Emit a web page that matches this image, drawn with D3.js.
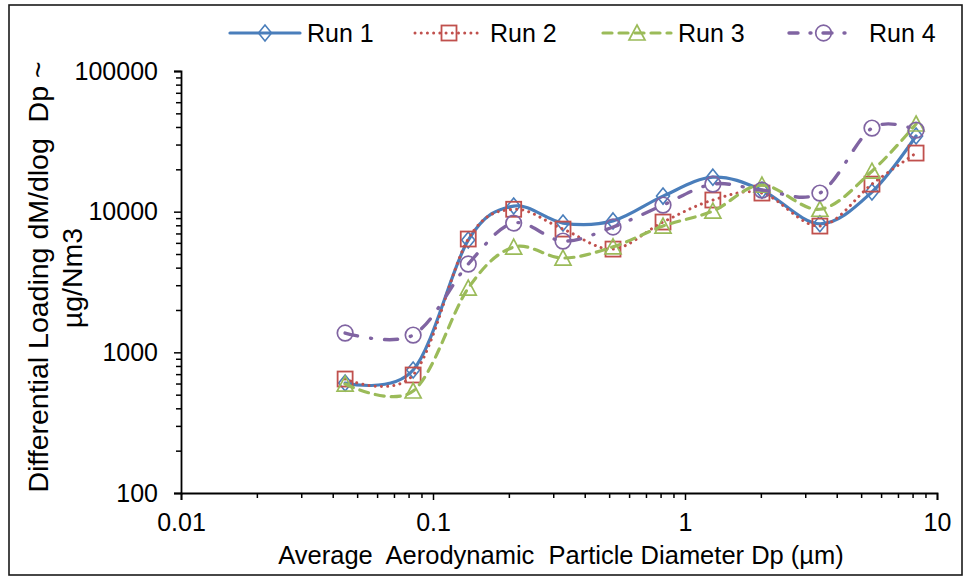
<!DOCTYPE html>
<html>
<head>
<meta charset="utf-8">
<script src="https://cdn.jsdelivr.net/npm/d3@7"></script>
<style>
  html, body { margin: 0; padding: 0; background: #fff; }
  svg { display: block; }
  text { font-family: "Liberation Sans", Arial, sans-serif; fill: #000; }
</style>
</head>
<body>
<svg id="chart" width="966" height="580"></svg>
<script>
// ---- Data ----
const diameters = [0.0448, 0.0834, 0.138, 0.209, 0.328, 0.518, 0.818, 1.29, 2.02, 3.43, 5.52, 8.26];
const run1 = [605, 748, 6280, 10960, 8300, 8600, 12900, 17600, 14200, 8200, 13800, 34500];
const run2 = [646, 690, 6390, 10400, 7520, 5420, 8440, 12100, 13560, 7900, 15700, 26100];
const run3 = [595, 531, 2860, 5600, 4680, 5620, 7900, 10100, 15450, 10400, 19400, 42000];
const run4 = [1372, 1327, 4245, 8300, 6180, 7780, 11140, 15700, 14250, 13560, 39300, 38000];
const seriesNames = ["Run 1", "Run 2", "Run 3", "Run 4"];
const xTickLabels = ["0.01", "0.1", "1", "10"];
const yTickLabels = ["100", "1000", "10000", "100000"];
const xTitle = "Average  Aerodynamic  Particle Diameter Dp (µm)";
const yTitle1 = "Differential Loading dM/dlog  Dp ~";
const yTitle2 = "µg/Nm3";

// ---- Styles ----
const styles = [
  { color: "#4a7ebb", width: 3.2, dash: null, cap: "round", marker: "diamond" },
  { color: "#c0504d", width: 3, dash: "0.01 6.2", cap: "round", marker: "square" },
  { color: "#9bbb59", width: 3.2, dash: "9 7", cap: "round", marker: "triangle" },
  { color: "#8064a2", width: 3.4, dash: "13 13 1 13", cap: "round", marker: "circle" }
];
const allRuns = [run1, run2, run3, run4];
const FONT = "Liberation Sans, Arial, sans-serif";

const svg = d3.select("#chart");

// Outer border
svg.append("rect").attr("x", 9).attr("y", 5).attr("width", 953).attr("height", 570)
  .attr("fill", "none").attr("stroke", "#1a1a1a").attr("stroke-width", 1.6);

const x = d3.scaleLog().domain([0.01, 10]).range([181, 937]);
const y = d3.scaleLog().domain([100, 100000]).range([493, 71]);

// Minor + major ticks
const xMinor = [];
for (let e = -2; e < 1; e++) for (let m = 2; m <= 9; m++) xMinor.push(m * Math.pow(10, e));
const yMinor = [];
for (let e = 2; e < 5; e++) for (let m = 2; m <= 9; m++) yMinor.push(m * Math.pow(10, e));

const axisG = svg.append("g");
axisG.append("g").attr("transform", "translate(0,493)")
  .call(d3.axisBottom(x).tickValues(xMinor).tickSize(5).tickFormat(""))
  .call(g => g.select(".domain").remove())
  .call(g => g.selectAll("line").attr("stroke", "#000").attr("stroke-width", 1.5));
axisG.append("g").attr("transform", "translate(0,493)")
  .call(d3.axisBottom(x).tickValues(xTickLabels.map(Number)).tickSize(7).tickPadding(13)
    .tickFormat((d, i) => xTickLabels[i]))
  .call(g => g.select(".domain").attr("stroke", "#000").attr("stroke-width", 1.8))
  .call(g => g.selectAll("line").attr("stroke", "#000").attr("stroke-width", 1.5))
  .call(g => g.selectAll("text").attr("font-size", 25).attr("font-family", FONT).attr("fill", "#000"));

axisG.append("g").attr("transform", "translate(181,0)")
  .call(d3.axisLeft(y).tickValues(yMinor).tickSize(5).tickFormat(""))
  .call(g => g.select(".domain").remove())
  .call(g => g.selectAll("line").attr("stroke", "#000").attr("stroke-width", 1.5));
axisG.append("g").attr("transform", "translate(181,0)")
  .call(d3.axisLeft(y).tickValues(yTickLabels.map(Number)).tickSize(7).tickPadding(16)
    .tickFormat((d, i) => yTickLabels[i]))
  .call(g => g.select(".domain").attr("stroke", "#000").attr("stroke-width", 1.8))
  .call(g => g.selectAll("line").attr("stroke", "#000").attr("stroke-width", 1.5))
  .call(g => g.selectAll("text").attr("font-size", 25).attr("font-family", FONT).attr("fill", "#000"));

// Axis titles
svg.append("text").attr("x", 561).attr("y", 564).attr("text-anchor", "middle")
  .attr("font-size", 25.5).style("white-space", "pre").text(xTitle);
svg.append("text").attr("transform", "translate(48,277) rotate(-90)").attr("text-anchor", "middle")
  .attr("font-size", 28.5).style("white-space", "pre").text(yTitle1);
svg.append("text").attr("transform", "translate(82,278) rotate(-90)").attr("text-anchor", "middle")
  .attr("font-size", 28.5).text(yTitle2);

// Marker drawing
function drawMarker(g, type, cx, cy, color) {
  if (type === "diamond") {
    g.append("path").attr("d", `M${cx},${cy - 8}L${cx + 6.5},${cy}L${cx},${cy + 8}L${cx - 6.5},${cy}Z`)
      .attr("fill", "none").attr("stroke", color).attr("stroke-width", 1.6);
  } else if (type === "square") {
    g.append("rect").attr("x", cx - 7.5).attr("y", cy - 7.5).attr("width", 15).attr("height", 15)
      .attr("fill", "none").attr("stroke", color).attr("stroke-width", 1.8);
  } else if (type === "triangle") {
    g.append("path").attr("d", `M${cx},${cy - 8}L${cx + 8},${cy + 7}L${cx - 8},${cy + 7}Z`)
      .attr("fill", "none").attr("stroke", color).attr("stroke-width", 1.7);
  } else {
    g.append("circle").attr("cx", cx).attr("cy", cy).attr("r", 7.8)
      .attr("fill", "none").attr("stroke", color).attr("stroke-width", 1.7);
  }
}

const line = d3.line().x(d => x(d[0])).y(d => y(d[1])).curve(d3.curveCatmullRom.alpha(0));

allRuns.forEach((vals, i) => {
  const s = styles[i];
  const g = svg.append("g");
  const pts = diameters.map((d, j) => [d, vals[j]]);
  g.append("path").attr("d", line(pts)).attr("fill", "none")
    .attr("stroke", s.color).attr("stroke-width", s.width)
    .attr("stroke-linecap", s.cap).attr("stroke-dasharray", s.dash);
  pts.forEach(p => drawMarker(g, s.marker, x(p[0]), y(p[1]), s.color));
});

// Legend
const legendX = [230, 415, 603, 789];
const legendLen = [70, 68, 68, 57];
const legendY = 33;
seriesNames.forEach((name, i) => {
  const s = styles[i];
  const g = svg.append("g");
  const x0 = legendX[i], x1 = legendX[i] + legendLen[i];
  g.append("line").attr("x1", x0).attr("x2", x1).attr("y1", legendY).attr("y2", legendY)
    .attr("stroke", s.color).attr("stroke-width", s.width).attr("stroke-linecap", s.cap)
    .attr("stroke-dasharray", i === 3 ? "9 12 1 12" : s.dash);
  drawMarker(g, s.marker, (x0 + x1) / 2 + (i === 3 ? 6 : 0), legendY, s.color);
  g.append("text").attr("x", x1 + (i === 3 ? 23 : 7)).attr("y", legendY + 9)
    .attr("font-size", 25).text(name);
});
</script>
</body>
</html>
